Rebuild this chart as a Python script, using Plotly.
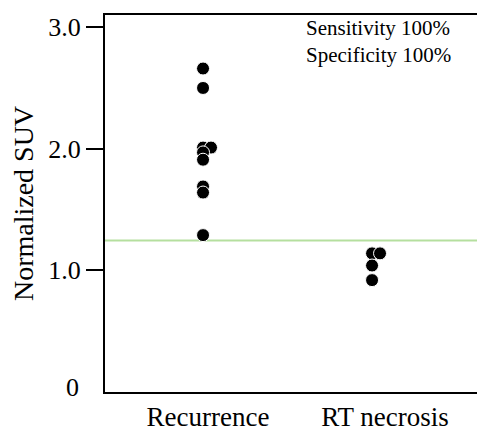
import plotly.graph_objects as go

categories = ["Recurrence", "RT necrosis"]
cat_pos = [1, 2]

rec_x = [0.972, 0.972, 0.972, 1.017, 0.972, 0.972, 0.972, 0.972, 0.972]
rec_y = [2.66, 2.50, 2.01, 2.01, 1.97, 1.91, 1.69, 1.64, 1.29]

rt_x = [1.927, 1.972, 1.927, 1.927]
rt_y = [1.14, 1.14, 1.04, 0.92]

cutoff = 1.246

y_tickvals = [1, 2, 3]
y_ticktext = ["1.0", "2.0", "3.0"]

FONT = "Liberation Serif, Times New Roman, serif"

fig = go.Figure()
marker = dict(color="black", size=13, line=dict(color="white", width=1))
fig.add_trace(go.Scatter(x=rec_x, y=rec_y, mode="markers", marker=marker, showlegend=False))
fig.add_trace(go.Scatter(x=rt_x, y=rt_y, mode="markers", marker=marker, showlegend=False))

fig.add_shape(type="line", xref="paper", x0=0, x1=1, yref="y", y0=cutoff, y1=cutoff,
              line=dict(color="#b5df9f", width=2), layer="below")

fig.add_annotation(xref="paper", yref="paper", x=0.535, y=0.93, xanchor="left", yanchor="middle",
                   text="Sensitivity 100%<br>Specificity 100%", showarrow=False, align="left",
                   font=dict(family=FONT, size=21, color="black"))
fig.add_annotation(xref="paper", yref="y", x=0, y=0.04, xanchor="right", yanchor="middle",
                   xshift=-24, text="0", showarrow=False,
                   font=dict(family=FONT, size=26, color="black"))

fig.update_layout(
    width=477, height=431,
    margin=dict(l=105, r=0, t=15, b=39),
    paper_bgcolor="white", plot_bgcolor="white",
    font=dict(family=FONT, color="black"),
    xaxis=dict(range=[0.418, 2.52], tickvals=cat_pos, ticktext=categories,
               showgrid=False, zeroline=False, showline=True, mirror=True,
               linecolor="black", linewidth=2, ticks="",
               tickfont=dict(family=FONT, size=27, color="black")),
    yaxis=dict(range=[0.0, 3.1], tickvals=y_tickvals, ticktext=y_ticktext,
               showgrid=False, zeroline=False, showline=True, mirror=False,
               linecolor="black", linewidth=2, ticks="outside", ticklen=17,
               tickwidth=2, tickcolor="black",
               tickfont=dict(family=FONT, size=26, color="black"),
               title=dict(text="Normalized SUV", font=dict(family=FONT, size=28, color="black"),
                          standoff=6)),
)

fig.write_html("out.html", config={"displayModeBar": False},
               post_script="document.body.style.margin='0';document.body.style.padding='0';")
